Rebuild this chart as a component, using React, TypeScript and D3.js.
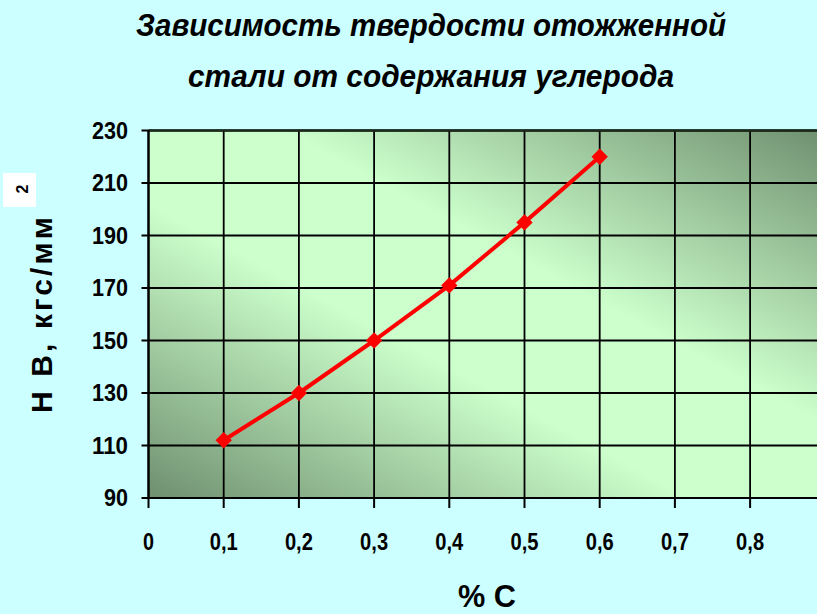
import React from "react";
import * as d3 from "d3";

const carbon = [0.1, 0.2, 0.3, 0.4, 0.5, 0.6];
const hardness = [112, 130, 150, 171, 195, 220];
const xTicks = [0, 0.1, 0.2, 0.3, 0.4, 0.5, 0.6, 0.7, 0.8];
const yTicks = [90, 110, 130, 150, 170, 190, 210, 230];
const titleLines = ["Зависимость твердости отожженной", "стали от содержания углерода"];

const W = 817;
const H = 614;

export default function App() {
  const x = d3.scaleLinear().domain([0, 0.9]).range([148.5, 825.3]);
  const y = d3.scaleLinear().domain([90, 230]).range([498, 130.5]);
  const line = d3
    .line<number>()
    .x((_, i) => x(carbon[i]))
    .y((d) => y(d));
  const diamond = d3.symbol().type(d3.symbolDiamond2).size(170)();
  const fmt = (v: number) => (v === 0 ? "0" : String(v).replace(".", ","));
  const x0 = x(0);
  const x1 = x(0.9);
  const yTop = y(230);
  const yBot = y(90);

  return (
    <svg
      width={W}
      height={H}
      style={{ position: "absolute", left: 0, top: 0, display: "block" }}
      fontFamily="Liberation Sans, Arial, sans-serif"
    >
      <defs>
        <linearGradient id="plotBg" x1="0" y1="1" x2="1" y2="0">
          <stop offset="0" stopColor="#6f8f6f" />
          <stop offset="0.4" stopColor="#ccffcc" />
          <stop offset="0.6" stopColor="#ccffcc" />
          <stop offset="1" stopColor="#6f8f6f" />
        </linearGradient>
      </defs>
      <rect x={0} y={0} width={W} height={H} fill="#ccffff" />

      {/* Title */}
      {titleLines.map((t, i) => (
        <text
          key={i}
          x={431}
          y={36 + i * 51}
          textAnchor="middle"
          fontFamily="Liberation Sans Narrow, Arial Narrow, Liberation Sans, sans-serif"
          fontWeight="bold"
          fontStyle="italic"
          fontSize={32}
          fill="#000"
          textLength={i === 0 ? 590 : 486}
          lengthAdjust="spacingAndGlyphs"
        >
          {t}
        </text>
      ))}

      {/* Plot background */}
      <rect x={x0} y={yTop} width={x1 - x0} height={yBot - yTop} fill="url(#plotBg)" />

      {/* Grid */}
      {yTicks.map((v) => (
        <line key={"gy" + v} x1={x0} x2={x1} y1={y(v)} y2={y(v)} stroke="#000" strokeWidth={1.8} />
      ))}
      {xTicks.map((v) => (
        <line key={"gx" + v} x1={x(v)} x2={x(v)} y1={yTop} y2={yBot} stroke="#000" strokeWidth={1.8} />
      ))}
      <line x1={x0} x2={x1} y1={yTop} y2={yTop} stroke="#1a2a1a" strokeWidth={2.5} />

      {/* Axes */}
      <line x1={x0} x2={x0} y1={yTop} y2={yBot + 1} stroke="#000" strokeWidth={2.2} />
      <line x1={x0 - 1} x2={x1} y1={yBot} y2={yBot} stroke="#000" strokeWidth={2.2} />
      {yTicks.map((v) => (
        <line key={"ty" + v} x1={x0 - 7} x2={x0} y1={y(v)} y2={y(v)} stroke="#000" strokeWidth={2} />
      ))}
      {xTicks.map((v) => (
        <line key={"tx" + v} x1={x(v)} x2={x(v)} y1={yBot} y2={yBot + 10} stroke="#000" strokeWidth={2} />
      ))}

      {/* Tick labels */}
      {yTicks.map((v) => (
        <text
          key={"ly" + v}
          x={128}
          y={y(v)}
          dy="0.36em"
          textAnchor="end"
          fontWeight="bold"
          fontSize={23}
          fill="#000"
          textLength={v >= 100 ? 36 : 24}
          lengthAdjust="spacingAndGlyphs"
        >
          {v}
        </text>
      ))}
      {xTicks.map((v) => (
        <text
          key={"lx" + v}
          x={x(v)}
          y={542}
          dy="0.36em"
          textAnchor="middle"
          fontWeight="bold"
          fontSize={23}
          fill="#000"
          textLength={v === 0 ? 11 : 28}
          lengthAdjust="spacingAndGlyphs"
        >
          {fmt(v)}
        </text>
      ))}

      {/* Axis titles */}
      <text
        x={487}
        y={607}
        textAnchor="middle"
        fontWeight="bold"
        fontSize={32}
        fill="#000"
        textLength={58}
        lengthAdjust="spacingAndGlyphs"
      >
        % C
      </text>
      <text
        transform="translate(52,315) rotate(-90)"
        textAnchor="middle"
        fontWeight="bold"
        fontSize={30}
        fill="#000"
        textLength={196}
        lengthAdjust="spacing"
      >
        Н В, кгс/мм
      </text>
      <rect x={3} y={173} width={33} height={34} fill="#ffffff" />
      <text
        transform="translate(28,189) rotate(-90)"
        textAnchor="middle"
        fontWeight="bold"
        fontSize={16}
        fill="#000"
      >
        2
      </text>

      {/* Data line */}
      <path d={line(hardness) || ""} fill="none" stroke="#ff0000" strokeWidth={4} />
      {hardness.map((v, i) => (
        <path key={"m" + i} d={diamond || ""} transform={`translate(${x(carbon[i])},${y(v)})`} fill="#ff0000" />
      ))}
    </svg>
  );
}
